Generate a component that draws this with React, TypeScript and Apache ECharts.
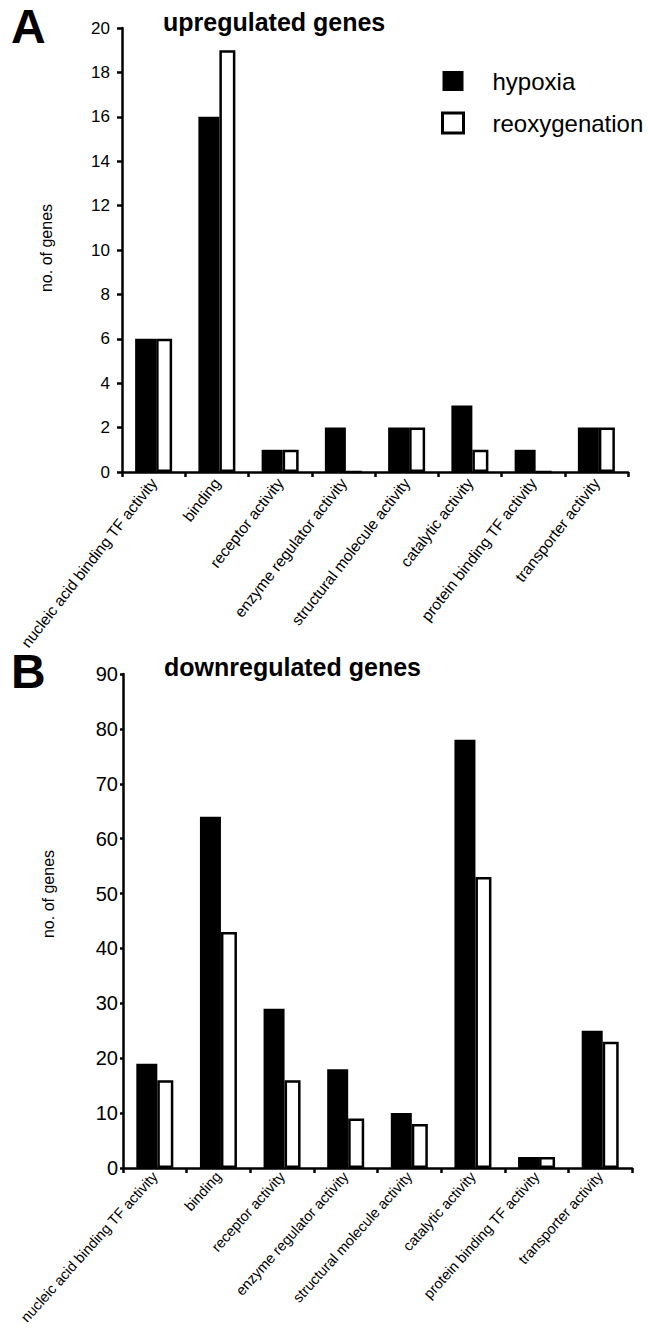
import React, { useEffect, useRef } from "react";
import * as echarts from "echarts";

const categories = [
  "nucleic acid binding TF activity",
  "binding",
  "receptor activity",
  "enzyme regulator activity",
  "structural molecule activity",
  "catalytic activity",
  "protein binding TF activity",
  "transporter activity",
];

const upHypoxia = [6, 16, 1, 2, 2, 3, 1, 2];
const upReoxygenation = [6, 19, 1, 0, 2, 1, 0, 2];

const downHypoxia = [19, 64, 29, 18, 10, 78, 2, 25];
const downReoxygenation = [16, 43, 16, 9, 8, 53, 2, 23];

const seriesNames = ["hypoxia", "reoxygenation"];
const panelTitles = ["upregulated genes", "downregulated genes"];
const panelLetters = ["A", "B"];
const yTitle = "no. of genes";

const FONT = "'Liberation Sans', Arial, sans-serif";

export default function App() {
  const ref = useRef<HTMLDivElement>(null);

  useEffect(() => {
    if (!ref.current) return;
    const chart = echarts.init(ref.current, undefined, { renderer: "svg" });

    const axisLine = { show: true, lineStyle: { color: "#000", width: 2.5 } };

    const xAxisCommon = (gridIndex: number, margin: number, rotate: number, fontSize: number) => ({
      type: "category" as const,
      gridIndex,
      data: categories,
      boundaryGap: true,
      axisLine,
      axisTick: { show: true, length: 5, lineStyle: { color: "#000", width: 2.5 } },
      axisLabel: {
        interval: 0,
        rotate,
        margin,
        color: "#000",
        fontSize,
        fontFamily: FONT,
      },
      splitLine: { show: false },
      z: 10,
    });

    const blackBar = (name: string, data: number[], idx: number) => ({
      name,
      type: "bar" as const,
      xAxisIndex: idx,
      yAxisIndex: idx,
      data,
      barWidth: 21,
      barGap: "0%",
      itemStyle: { color: "#000" },
    });
    const whiteBar = (name: string, data: number[], idx: number) => ({
      name,
      type: "bar" as const,
      xAxisIndex: idx,
      yAxisIndex: idx,
      data,
      barWidth: 16,
      barGap: "0%",
      itemStyle: { color: "#fff", borderColor: "#000", borderWidth: 2.5 },
    });

    const option: any = {
      animation: false,
      backgroundColor: "#fff",
      textStyle: { fontFamily: FONT },
      grid: [
        { left: 122, top: 28, width: 506, height: 444, containLabel: false, outerBoundsMode: "none" },
        { left: 123, top: 674, width: 509, height: 494, containLabel: false, outerBoundsMode: "none" },
      ],
      xAxis: [xAxisCommon(0, 8, 52, 15.5), xAxisCommon(1, 6, 48, 14.5)],
      yAxis: [
        {
          type: "value",
          gridIndex: 0,
          min: 0,
          max: 20,
          interval: 2,
          axisLine,
          axisTick: { show: true, length: 5, lineStyle: { color: "#000", width: 2.5 } },
          axisLabel: { margin: 12, color: "#000", fontSize: 17, fontFamily: FONT },
          splitLine: { show: false },
          z: 10,
        },
        {
          type: "value",
          gridIndex: 1,
          min: 0,
          max: 90,
          interval: 10,
          axisLine,
          axisTick: { show: true, length: 3, lineStyle: { color: "#000", width: 2.5 } },
          axisLabel: { margin: 5, color: "#000", fontSize: 20, fontFamily: FONT },
          splitLine: { show: false },
          z: 10,
        },
      ],
      legend: {
        orient: "vertical",
        left: 441,
        top: 69,
        padding: 0,
        icon: "rect",
        itemWidth: 21,
        itemHeight: 20,
        itemGap: 18,
        data: [
          { name: seriesNames[0], itemStyle: { color: "#000", borderWidth: 0 } },
          {
            name: seriesNames[1],
            itemStyle: { color: "#fff", borderColor: "#000", borderWidth: 3 },
          },
        ],
        textStyle: {
          color: "#000",
          fontSize: 24,
          fontFamily: FONT,
          lineHeight: 20,
          padding: [0, 0, 0, 24],
        },
      },
      graphic: [
        {
          type: "text",
          left: 11,
          top: 2,
          style: { text: panelLetters[0], font: `bold 48px ${FONT}`, fill: "#000" },
        },
        {
          type: "text",
          left: 11,
          top: 647,
          style: { text: panelLetters[1], font: `bold 48px ${FONT}`, fill: "#000" },
        },
        {
          type: "text",
          x: 163,
          y: 22,
          style: {
            text: panelTitles[0],
            font: `bold 25px ${FONT}`,
            fill: "#000",
            textAlign: "left",
            textVerticalAlign: "middle",
          },
        },
        {
          type: "text",
          x: 164,
          y: 667,
          style: {
            text: panelTitles[1],
            font: `bold 25px ${FONT}`,
            fill: "#000",
            textAlign: "left",
            textVerticalAlign: "middle",
          },
        },
        {
          type: "text",
          x: 46,
          y: 248,
          rotation: Math.PI / 2,
          style: {
            text: yTitle,
            font: `16px ${FONT}`,
            fill: "#000",
            textAlign: "center",
            textVerticalAlign: "middle",
          },
        },
        {
          type: "text",
          x: 48,
          y: 894,
          rotation: Math.PI / 2,
          style: {
            text: yTitle,
            font: `16px ${FONT}`,
            fill: "#000",
            textAlign: "center",
            textVerticalAlign: "middle",
          },
        },
      ],
      series: [
        blackBar(seriesNames[0], upHypoxia, 0),
        whiteBar(seriesNames[1], upReoxygenation, 0),
        blackBar(seriesNames[0], downHypoxia, 1),
        whiteBar(seriesNames[1], downReoxygenation, 1),
      ],
    };

    chart.setOption(option);
    return () => chart.dispose();
  }, []);

  return (
    <div
      ref={ref}
      style={{ position: "absolute", left: 0, top: 0, width: 648, height: 1328 }}
    />
  );
}
